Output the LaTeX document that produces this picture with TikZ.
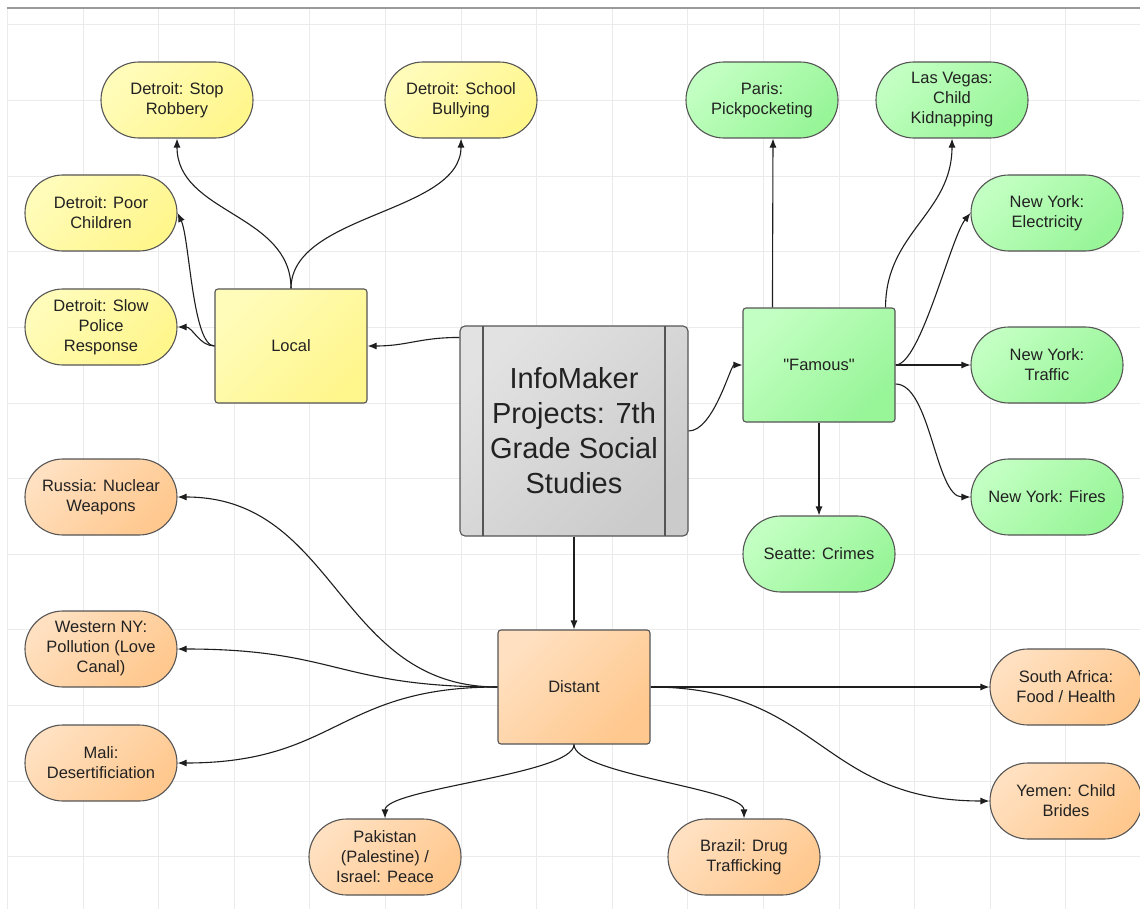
\documentclass[tikz,border=0pt]{standalone}
\usepackage{fontspec}
\setmainfont{Liberation Sans}[Ligatures=TeXOff]
\usetikzlibrary{arrows.meta,calc}

\definecolor{gridc}{HTML}{EBEBEB}
\definecolor{framec}{HTML}{9A9A9A}
\definecolor{edgec}{HTML}{555555}
\definecolor{linec}{HTML}{1E1E1E}
\definecolor{txt}{HTML}{222222}
\definecolor{ylA}{HTML}{FFFCBA}
\definecolor{ylB}{HTML}{FFF68C}
\definecolor{grA}{HTML}{C2FFC2}
\definecolor{grB}{HTML}{98F598}
\definecolor{orA}{HTML}{FFE0C0}
\definecolor{orB}{HTML}{FFC88E}
\definecolor{gyA}{HTML}{E2E2E2}
\definecolor{gyB}{HTML}{CBCBCB}

\tikzset{
  gridline/.style={draw=gridc, line width=1pt},
  base/.style={draw=edgec, line width=1.1pt, text=txt, align=center,
    font=\fontsize{16.5}{20}\selectfont, inner sep=0pt},
  term/.style={base, rounded corners=37.9pt, minimum width=152pt, minimum height=76pt},
  hub/.style={base, rounded corners=3pt, minimum width=152pt, minimum height=114pt},
  core/.style={base, rounded corners=5pt, minimum width=228pt, minimum height=210pt,
    font=\fontsize{29}{35}\selectfont,
    path picture={
      \draw[edgec, line width=1.1pt]
        ([xshift=23pt]path picture bounding box.north west) --
        ([xshift=23pt]path picture bounding box.south west);
      \draw[edgec, line width=1.1pt]
        ([xshift=-23pt]path picture bounding box.north east) --
        ([xshift=-23pt]path picture bounding box.south east);
    }},
  yel/.style={top color=ylA, bottom color=ylB, shading angle=45},
  grn/.style={top color=grA, bottom color=grB, shading angle=45},
  org/.style={top color=orA, bottom color=orB, shading angle=45},
  gry/.style={top color=gyA, bottom color=gyB, shading angle=45},
  arr/.style={draw=linec, line width=1.1pt, -{Latex[length=9pt,width=7pt]}},
}

\begin{document}
\begin{tikzpicture}[x=1pt,y=1pt]
\useasboundingbox (0,0) rectangle (1140,-909);
\fill[white] (0,0) rectangle (1140,-909);

% background grid of the canvas
\foreach \i in {0,...,15}
  \draw[gridline] ({7.4+75.6*\i},-8) -- ({7.4+75.6*\i},-909);
\foreach \j in {0,...,11}
  \draw[gridline] (7,{-25-75.6*\j}) -- (1140,{-25-75.6*\j});
\draw[framec, line width=2pt] (7,-8.5) -- (1140,-8.5);

% central topic
\node[core, gry] (center) at (574,-431) {InfoMaker\\Projects: 7th\\Grade Social\\Studies};

% local branch
\node[hub, yel] (local) at (291,-346) {Local};
\node[term, yel] (srob) at (177,-100) {Detroit: Stop\\Robbery};
\node[term, yel] (sbul) at (461,-100) {Detroit: School\\Bullying};
\node[term, yel] (poor) at (101,-213) {Detroit: Poor\\Children};
\node[term, yel] (slow) at (101,-327) {Detroit: Slow\\Police\\Response};

% famous branch
\node[hub, grn] (famous) at (819,-365) {"Famous"};
\node[term, grn] (paris) at (762,-100) {Paris:\\Pickpocketing};
\node[term, grn] (vegas) at (952,-100) {Las Vegas:\\Child\\Kidnapping};
\node[term, grn] (elec) at (1047,-213) {New York:\\Electricity};
\node[term, grn] (traffic) at (1047,-365) {New York:\\Traffic};
\node[term, grn] (fires) at (1047,-497) {New York: Fires};
\node[term, grn] (seattle) at (819,-554) {Seatte: Crimes};

% distant branch
\node[hub, org] (distant) at (574,-687) {Distant};
\node[term, org] (russia) at (101,-497) {Russia: Nuclear\\Weapons};
\node[term, org] (wny) at (101,-649) {Western NY:\\Pollution (Love\\Canal)};
\node[term, org] (mali) at (101,-763) {Mali:\\Desertificiation};
\node[term, org] (safr) at (1066,-687) {South Africa:\\Food / Health};
\node[term, org] (yemen) at (1066,-801) {Yemen: Child\\Brides};
\node[term, org] (pak) at (385,-857) {Pakistan\\(Palestine) /\\Israel: Peace};
\node[term, org] (brazil) at (744,-857) {Brazil: Drug\\Trafficking};

% connectors from the central topic
\draw[arr] ($(center.north west)+(0,-12)$) .. controls +(-40,0) and +(40,0) .. (local.east);
\draw[arr] (center.east) .. controls +(25,0) and +(-12,0) .. (famous.west);
\draw[arr] (center.south) -- (distant.north);

% local connectors
\draw[arr] (local.north) .. controls +(0,75) and +(0,-75) .. (srob.south);
\draw[arr] (local.north) .. controls +(0,75) and +(0,-75) .. (sbul.south);
\draw[arr] (local.west) .. controls +(-22,0) and +(12,-25) .. (poor.east);
\draw[arr] (local.west) .. controls +(-15,0) and +(15,0) .. (slow.east);

% famous connectors
\draw[arr] ($(famous.north west)+(30,0)$) -- ($(paris.south)+(11,0)$);
\draw[arr] ($(famous.north east)+(-10,0)$) .. controls +(0,75) and +(0,-75) .. (vegas.south);
\draw[arr] (famous.east) .. controls +(25,0) and +(-20,-25) .. (elec.west);
\draw[arr] (famous.east) -- (traffic.west);
\draw[arr] ($(famous.east)+(0,-19)$) .. controls +(35,0) and +(-35,0) .. (fires.west);
\draw[arr] (famous.south) -- (seattle.north);

% distant connectors
\draw[arr] (distant.west) .. controls +(-160,0) and +(160,0) .. (russia.east);
\draw[arr] (distant.west) .. controls +(-160,0) and +(160,0) .. (wny.east);
\draw[arr] (distant.west) .. controls +(-160,0) and +(160,0) .. (mali.east);
\draw[arr] (distant.east) -- (safr.west);
\draw[arr] (distant.east) .. controls +(170,0) and +(-170,0) .. (yemen.west);
\draw[arr] (distant.south) .. controls +(0,-30) and +(0,30) .. (pak.north);
\draw[arr] (distant.south) .. controls +(0,-30) and +(0,30) .. (brazil.north);
\end{tikzpicture}
\end{document}
